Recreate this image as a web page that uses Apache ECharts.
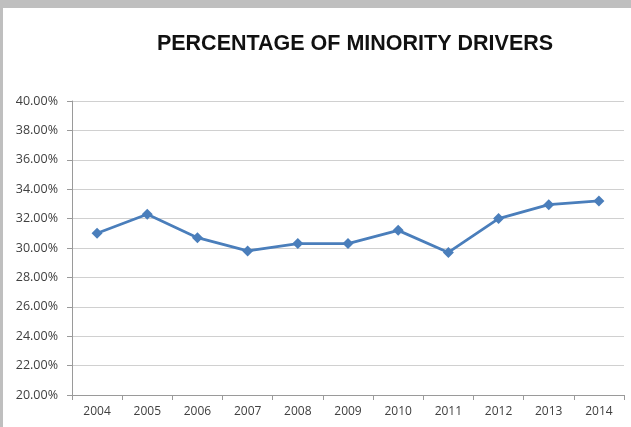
<!DOCTYPE html>
<html><head><meta charset="utf-8">
<script src="https://cdn.jsdelivr.net/npm/echarts@6/dist/echarts.min.js"></script>
<style>html,body{margin:0;padding:0;background:#bfbfbf;}#c{width:631px;height:427px;}</style>
</head><body><div id="c"></div>
<script>
var years = ['2004','2005','2006','2007','2008','2009','2010','2011','2012','2013','2014'];
var minorityPct = [31.0, 32.3, 30.7, 29.8, 30.3, 30.3, 31.2, 29.7, 32.0, 32.95, 33.2];
var yTicks = {min: 20, max: 40, step: 2};
var titleText = 'PERCENTAGE OF MINORITY DRIVERS';

var chart = echarts.init(document.getElementById('c'));
chart.setOption({
  backgroundColor: '#bfbfbf',
  animation: false,
  graphic: [{
    type: 'rect', z: -10,
    shape: {x: 3, y: 8, width: 628, height: 419},
    style: {fill: '#ffffff'}
  }],
  title: {
    text: titleText, left: 350, top: 28, textAlign: 'center',
    textStyle: {fontFamily: 'Liberation Sans', fontWeight: 'bold', fontSize: 21.5, color: '#111'}
  },
  grid: {left: 72, right: 7, top: 101, bottom: 32},
  xAxis: {
    type: 'category', data: years, boundaryGap: true,
    axisLine: {lineStyle: {color: '#9a9a9a', width: 1}},
    axisTick: {show: true, length: 5, lineStyle: {color: '#9a9a9a'}},
    axisLabel: {color: '#404040', fontSize: 12, fontFamily: 'Open Sans', margin: 11}
  },
  yAxis: {
    type: 'value', min: yTicks.min, max: yTicks.max, interval: yTicks.step,
    axisLine: {show: true, lineStyle: {color: '#9a9a9a', width: 1}},
    axisTick: {show: true, length: 5, inside: false, lineStyle: {color: '#9a9a9a'}},
    splitLine: {lineStyle: {color: '#d0d0d0', width: 1}},
    axisLabel: {color: '#404040', fontSize: 12.5, fontFamily: 'Open Sans', margin: 14,
      formatter: function (v) { return v.toFixed(2) + '%'; }}
  },
  series: [{
    type: 'line', data: minorityPct,
    symbol: 'diamond', symbolSize: 11,
    lineStyle: {color: '#4a7ebb', width: 2.8},
    itemStyle: {color: '#4a7ebb'}
  }]
});
</script></body></html>
